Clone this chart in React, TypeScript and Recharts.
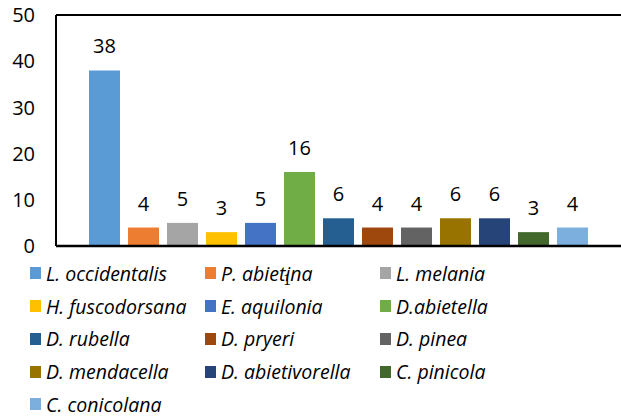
import React from 'react'
import { BarChart, Bar, XAxis, YAxis, Legend, LabelList, ReferenceLine } from 'recharts'

const species = [
  'L. occidentalis', 'P. abietina', 'L. melania',
  'H. fuscodorsana', 'E. aquilonia', 'D.abietella',
  'D. rubella', 'D. pryeri', 'D. pinea',
  'D. mendacella', 'D. abietivorella', 'C. pinicola',
  'C. conicolana'
]
const counts = [38, 4, 5, 3, 5, 16, 6, 4, 4, 6, 6, 3, 4]
const colors = [
  '#5B9BD5', '#ED7D31', '#A5A5A5', '#FFC000', '#4472C4', '#70AD47',
  '#255E91', '#9E480E', '#636363', '#997300', '#264478', '#43682B', '#7CAFDD'
]
const category = '1'
const yTicks = [0, 10, 20, 30, 40, 50]

const row: Record<string, string | number> = { name: category }
species.forEach((s, i) => { row['s' + i] = counts[i] })
const data = [row]

const font = '"Open Sans", sans-serif'

const CategoryTick = (props: any) => {
  const { x, y, payload } = props
  return (
    <text x={x - 53} y={y + 37} textAnchor="middle" fontFamily='"Liberation Serif", serif' fontSize={16} fill="#000">
      {payload.value}
    </text>
  )
}

const SpeciesLegend = (props: any) => {
  // keep the series order, not the alphabetical one
  const items = [...(props.payload || [])].sort(
    (a: any, b: any) => species.indexOf(a.value) - species.indexOf(b.value)
  )
  return (
    <div style={{ display: 'grid', gridTemplateColumns: '175px 175px 175px', paddingLeft: 30, fontFamily: font }}>
      {items.map((p: any) => (
        <div key={p.value} style={{ display: 'flex', alignItems: 'center', height: 32.75 }}>
          <span style={{ width: 11, height: 12, background: p.color, marginRight: 5, display: 'inline-block' }} />
          <span style={{ fontStyle: 'italic', fontSize: 19.5, color: '#000', whiteSpace: 'nowrap' }}>{p.value}</span>
        </div>
      ))}
    </div>
  )
}

export default function App() {
  return (
    <div style={{ position: 'absolute', left: 0, top: 0, width: 621, height: 419, overflow: 'hidden', background: '#fff' }}>
      <BarChart width={640} height={419} data={data} margin={{ top: 15, right: 16, left: 0, bottom: 0 }}
        barCategoryGap={33} barGap={8}>
        <XAxis dataKey="name" height={173} tickLine={false} tickSize={0}
          axisLine={{ stroke: '#000', strokeWidth: 2.5 }} tick={<CategoryTick />} />
        <YAxis domain={[0, 50]} ticks={yTicks} width={56} tickLine={false} tickSize={0} tickMargin={21}
          axisLine={{ stroke: '#000', strokeWidth: 2 }}
          tick={{ fill: '#000', fontSize: 20, fontFamily: font }} />
        <ReferenceLine y={50} stroke="#000" strokeWidth={2} />
        <Legend layout="horizontal" verticalAlign="middle" align="center" content={<SpeciesLegend />}
          wrapperStyle={{ position: 'absolute', top: 257, left: 0, width: 621 }} />
        {species.map((s, i) => (
          <Bar key={s} dataKey={'s' + i} name={s} fill={colors[i]} isAnimationActive={false}>
            <LabelList dataKey={'s' + i} position="top" offset={17} fill="#000" fontSize={20} fontFamily={font} />
          </Bar>
        ))}
      </BarChart>
    </div>
  )
}
